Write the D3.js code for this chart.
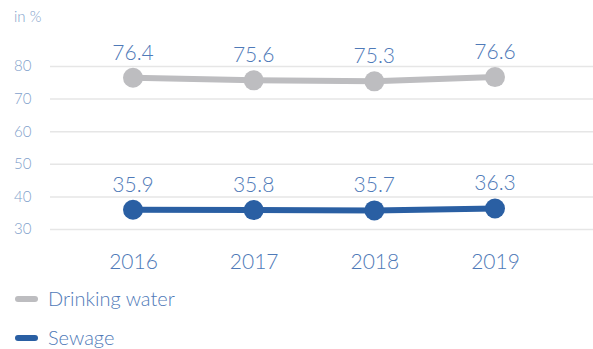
<!DOCTYPE html>
<html>
<head>
<meta charset="utf-8">
<script src="https://cdn.jsdelivr.net/npm/d3@7/dist/d3.min.js"></script>
<style>
  html, body { margin: 0; padding: 0; background: #fff; }
  svg text { font-family: Lato, "Open Sans", sans-serif; font-weight: 300; }
</style>
</head>
<body>
<svg id="chart" width="593" height="349"></svg>
<script>
const years = ["2016", "2017", "2018", "2019"];
const drinkingWater = [76.4, 75.6, 75.3, 76.6];
const sewage = [35.9, 35.8, 35.7, 36.3];
const yTicks = [30, 40, 50, 60, 70, 80];
const seriesNames = ["Drinking water", "Sewage"];
const seriesColors = ["#bdbdc0", "#2a5fa3"];

const svg = d3.select("#chart");
const fontFamily = "Lato, 'Open Sans', sans-serif";

const x = d3.scalePoint().domain(years).range([133, 495]);
const y = d3.scaleLinear().domain([30, 80]).range([229, 66]);

// horizontal grid
const grid = svg.append("g")
  .attr("transform", "translate(50,0)")
  .call(d3.axisLeft(y).tickValues(yTicks).tickSize(-543).tickFormat(""));
grid.select(".domain").remove();
grid.selectAll("line").attr("stroke", "#e6e6e6").attr("stroke-width", 1.5);

// y tick labels
const yAxis = svg.append("g")
  .attr("transform", "translate(14,0)")
  .call(d3.axisRight(y).tickValues(yTicks).tickSize(0).tickPadding(0));
yAxis.select(".domain").remove();
yAxis.selectAll("text").attr("fill", "#7f9fcb").attr("font-size", 15)
  .style("font-family", fontFamily).style("font-weight", 300);

svg.append("text").attr("x", 14).attr("y", 22).attr("fill", "#7f9fcb")
  .attr("font-size", 15).text("in %");

// x year labels
const xAxis = svg.append("g")
  .attr("transform", "translate(0,262)")
  .call(d3.axisBottom(x).tickSize(0).tickPadding(0));
xAxis.select(".domain").remove();
xAxis.selectAll("text").attr("fill", "#4f7ab8").attr("font-size", 21)
  .attr("dy", "0.35em")
  .style("font-family", fontFamily).style("font-weight", 300);

const line = d3.line().x((d, i) => x(years[i])).y(d => y(d));

[drinkingWater, sewage].forEach((vals, s) => {
  const g = svg.append("g");
  g.append("path").datum(vals).attr("d", line)
    .attr("fill", "none").attr("stroke", seriesColors[s]).attr("stroke-width", 6);
  g.selectAll("circle").data(vals).join("circle")
    .attr("cx", (d, i) => x(years[i])).attr("cy", d => y(d)).attr("r", 10)
    .attr("fill", seriesColors[s]);
  g.selectAll("text").data(vals).join("text")
    .attr("x", (d, i) => x(years[i])).attr("y", d => y(d) - 18)
    .attr("text-anchor", "middle").attr("fill", "#4f7ab8").attr("font-size", 21)
    .text(d => d.toFixed(1));
});

// legend
seriesNames.forEach((name, s) => {
  const ly = 299 + s * 39;
  svg.append("line").attr("x1", 18).attr("x2", 35).attr("y1", ly).attr("y2", ly)
    .attr("stroke", seriesColors[s]).attr("stroke-width", 6).attr("stroke-linecap", "round");
  svg.append("text").attr("x", 48).attr("y", ly).attr("dy", "0.35em")
    .attr("fill", "#4f7ab8").attr("font-size", 20).text(name);
});
</script>
</body>
</html>
